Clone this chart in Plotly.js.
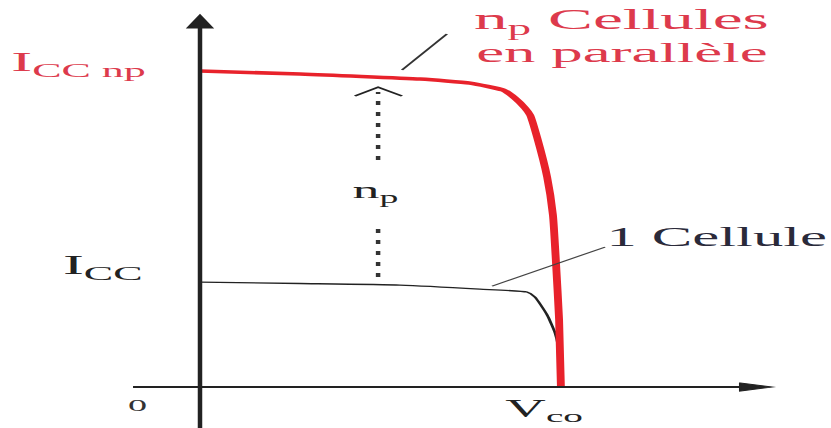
<!DOCTYPE html>
<html>
<head>
<meta charset="utf-8">
<script src="https://cdn.plot.ly/plotly-3.0.1.min.js"></script>
<style>
  html, body { margin: 0; padding: 0; background: #fff; overflow: hidden; }
  /* the source figure is stretched about 2.25x horizontally */
  #chart { width: 370px; height: 428px; transform: scaleX(2.2459); transform-origin: 0 0; }
</style>
</head>
<body>
<div id="chart"></div>
<script>
// V in units of Vco, I in units of Icc (one cell)
const cellV = [0, 0.276, 0.552, 0.773, 0.903, 0.925, 0.959, 0.981, 0.989, 0.994, 0.997];
const cellI = [1.0, 0.986, 0.971, 0.933, 0.905, 0.857, 0.686, 0.514, 0.4, 0.21, 0];

const parallelV = [0, 0.276, 0.608, 0.746, 0.837, 0.87, 0.898, 0.912, 0.931, 0.959, 0.975, 0.983, 0.992, 0.997];
const parallelI = [3.01, 2.981, 2.933, 2.895, 2.829, 2.752, 2.657, 2.59, 2.381, 2.0, 1.638, 1.21, 0.638, 0];

const np = 3;
const arrowV = 0.492;
const arrowLower = [1.048, 1.514];
const arrowUpper = [2.162, 2.81];

const redLine = "#e8222b";
const redText = "#dd3a4c";
const ink = "#222222";
const serif = "'Liberation Serif', 'Times New Roman', serif";

const xRange = [-0.5525, 1.7431];
const yRange = [-0.39, 3.686];

const traces = [
  {
    x: cellV,
    y: cellI,
    type: "scatter",
    mode: "lines",
    line: { color: ink, width: 1.3, shape: "spline", smoothing: 0.5 },
    hoverinfo: "skip",
  },
  {
    x: parallelV,
    y: parallelI,
    type: "scatter",
    mode: "lines",
    line: { color: redLine, width: 3.5, shape: "spline", smoothing: 0.5 },
    hoverinfo: "skip",
  },
  {
    x: [arrowV, arrowV, null, arrowV, arrowV],
    y: [arrowLower[0], arrowLower[1], null, arrowUpper[0], arrowUpper[1]],
    type: "scatter",
    mode: "lines",
    connectgaps: false,
    line: { color: "#333", width: 2, dash: "4px,7px" },
    hoverinfo: "skip",
  },
  {
    // open chevron just under the np curve
    x: [arrowV - 0.064, arrowV, arrowV + 0.066],
    y: [np * 0.924, np * 0.952, np * 0.924],
    type: "scatter",
    mode: "lines",
    line: { color: ink, width: 1.5 },
    hoverinfo: "skip",
  },
];

const shapes = [
  { type: "line", xref: "x", yref: "y", x0: -0.185, x1: 1.52, y0: 0, y1: 0, line: { color: ink, width: 2 } },
  { type: "line", xref: "x", yref: "y", x0: 0, x1: 0, y0: yRange[0], y1: 3.45, line: { color: ink, width: 2 } },
  { type: "path", xref: "x", yref: "y", path: "M1.492,0.038 L1.58,0 L1.492,-0.038 Z", fillcolor: ink, line: { color: ink, width: 1 } },
  { type: "path", xref: "x", yref: "y", path: "M-0.0345,3.419 L0,3.543 L0.0345,3.419 Z", fillcolor: ink, line: { color: ink, width: 1 } },
  // leader lines to the curve labels
  { type: "line", xref: "x", yref: "y", x0: 0.558, y0: 3.019, x1: 0.682, y1: 3.362, line: { color: "#333", width: 1.2 }, layer: "above" },
  { type: "line", xref: "x", yref: "y", x0: 0.807, y0: 0.962, x1: 1.119, y1: 1.333, line: { color: "#444", width: 1 }, layer: "above" },
];

const label = (x, y, text, size, color) => ({
  x, y, xref: "x", yref: "y",
  text,
  showarrow: false,
  xanchor: "left",
  yanchor: "middle",
  font: { family: serif, size, color },
  borderpad: 0,
});

const annotations = [
  label(-0.53, 3.08, "I<sub>CC np</sub>", 28, redText),
  label(-0.385, 1.15, "I<sub>CC</sub>", 28, "#222"),
  label(-0.205, -0.18, "0", 17, "#333"),
  label(0.838, -0.225, "V<sub>co</sub>", 25, "#222"),
  label(0.418, 1.86, "n<sub>p</sub>", 24, "#222"),
  label(0.752, 3.49, "n<sub>p</sub> Cellules", 30, redText),
  label(0.755, 3.185, "en parallèle", 28, redText),
  label(1.114, 1.43, "1 Cellule", 27, "#2a2a3a"),
];

Plotly.newPlot(
  "chart",
  traces,
  {
    width: 370,
    height: 428,
    margin: { l: 0, r: 0, t: 0, b: 0 },
    paper_bgcolor: "#fff",
    plot_bgcolor: "#fff",
    showlegend: false,
    xaxis: { range: xRange, visible: false, fixedrange: true },
    yaxis: { range: yRange, visible: false, fixedrange: true },
    shapes,
    annotations,
  },
  { displayModeBar: false, staticPlot: true },
);
</script>
</body>
</html>
